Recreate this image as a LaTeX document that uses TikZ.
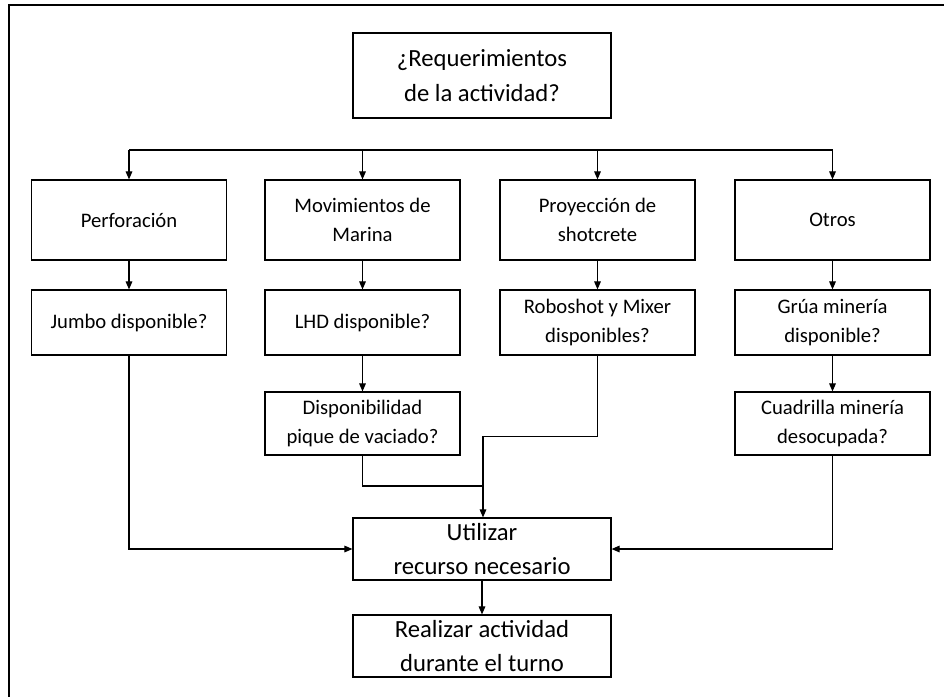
\documentclass[tikz,border=0pt]{standalone}
\usepackage{fontspec}
\setmainfont{Carlito}
\usetikzlibrary{arrows.meta,calc}
\begin{document}
\begin{tikzpicture}[x=0.75pt,y=-0.75pt,
  box/.style={draw,line width=0.9pt,rectangle,align=center,inner sep=2pt,
    minimum width=195*0.75pt,minimum height=#1*0.75pt,font=\fontsize{15.5}{22}\selectfont},
  bigbox/.style={draw,line width=0.9pt,rectangle,align=center,inner sep=2pt,
    minimum width=258*0.75pt,minimum height=#1*0.75pt,font=\fontsize{18.5}{26}\selectfont},
  conn/.style={line width=0.8pt},
  arr/.style={line width=0.8pt,-{Triangle[length=6pt,width=5pt]}}]
\useasboundingbox (0,0) rectangle (944,696);
\draw[line width=2.2pt] (9,697) -- (9,5) -- (945,5);
\node[bigbox=85] (top) at (482,75.5) {¿Requerimientos\\de la actividad?};
\node[box=80] (a1) at (129,220) {Perforación};
\node[box=80] (b1) at (362.5,220) {Movimientos de\\Marina};
\node[box=80] (c1) at (597.5,220) {Proyección de\\shotcrete};
\node[box=80] (d1) at (832.5,220) {Otros};
\node[box=65] (a2) at (129,322.5) {Jumbo disponible?};
\node[box=65] (b2) at (362.5,322.5) {LHD disponible?};
\node[box=65] (c2) at (597.5,322.5) {Roboshot y Mixer\\disponibles?};
\node[box=65] (d2) at (832.5,322.5) {Grúa minería\\disponible?};
\node[box=63] (b3) at (362.5,423.5) {Disponibilidad\\pique de vaciado?};
\node[box=63] (d3) at (832.5,423.5) {Cuadrilla minería\\desocupada?};
\node[bigbox=62] (util) at (482,549) {Utilizar\\recurso necesario};
\node[bigbox=62] (real) at (482,646) {Realizar actividad\\durante el turno};
\coordinate (bus) at (482,150);
\coordinate (join) at (483,486);
\draw[conn] (a1.north |- bus) -- (d1.north |- bus);
\foreach \n in {a1,b1,c1,d1} \draw[arr] (\n.north |- bus) -- (\n.north);
\foreach \n in {a,b,c,d} \draw[arr] (\n1) -- (\n2);
\draw[arr] (b2) -- (b3);
\draw[arr] (d2) -- (d3);
\draw[arr] (a2.south) |- (util.west);
\draw[arr] (d3.south) |- (util.east);
\draw[conn] (b3.south) |- (join);
\draw[arr] (c2.south) -- ++(0,81) -| (util.north -| join);
\draw[arr] (util) -- (real);
\end{tikzpicture}
\end{document}
